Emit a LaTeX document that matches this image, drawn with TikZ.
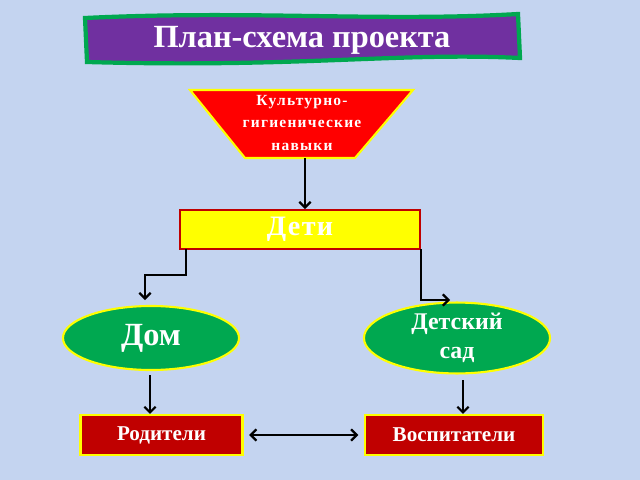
\documentclass[tikz,border=0pt]{standalone}
\usepackage{fontspec}
\setmainfont{Liberation Serif}
\usetikzlibrary{arrows.meta,shapes.geometric}
\definecolor{bg}{RGB}{196,212,240}
\definecolor{purp}{RGB}{112,48,160}
\definecolor{grn}{RGB}{0,168,80}
\definecolor{dred}{RGB}{192,0,0}
\definecolor{yel}{RGB}{255,255,0}
\begin{document}
\begin{tikzpicture}[x=0.025cm,y=-0.025cm,
  conn/.style={black,line width=1.6pt,-{Straight Barb[length=4pt,width=8pt]}},
  lbl/.style={font=\bfseries,text=white},
  ell/.style={ellipse,fill=grn,draw=yel,line width=1.5pt,lbl,align=center,inner sep=0pt},
  rbox/.style={rectangle,fill=dred,draw=yel,line width=1.5pt,lbl,font=\bfseries\fontsize{15}{18}\selectfont}]
\fill[bg] (0,0) rectangle (640,480);
% banner
\draw[fill=purp,draw=grn,line width=3pt] (85,18) .. controls (250,10) and (380,22) .. (518,14)
  -- (520,58) .. controls (400,52) and (300,68) .. (87,62) -- cycle;
\node[lbl,font=\bfseries\fontsize{23}{26}\selectfont] (title) at (302,40) {План-схема проекта};
% trapezoid
\draw[fill=red,draw=yel,line width=1.5pt] (190,90) -- (413,90) -- (355,158) -- (245,158) -- cycle;
\node[lbl,align=center,font=\bfseries\fontsize{11}{16}\selectfont\addfontfeatures{LetterSpace=8}] (kul) at (302,123) {Культурно-\\гигиенические\\навыки};
\coordinate (kb) at (305,158);
\node[rectangle,fill=yel,draw=dred,line width=1.5pt,minimum width=6cm,minimum height=0.97cm,lbl,font=\bfseries\fontsize{20}{22}\selectfont\addfontfeatures{LetterSpace=5}] (deti) at (300,229.5) {Дети};
\draw[conn] (kb) -- (deti.north -| kb);
\node[ell,minimum width=4.4cm,minimum height=1.6cm,font=\bfseries\fontsize{23}{26}\selectfont] (dom) at (151,338) {Дом};
\node[ell,minimum width=4.65cm,minimum height=1.7cm,font=\bfseries\fontsize{17}{21}\selectfont] (sad) at (457,338) {Детский\\сад};
\node[rbox,minimum width=4.05cm,minimum height=1cm] (rod) at (161.5,435) {Родители};
\node[rbox,minimum width=4.45cm,minimum height=1cm] (vos) at (454,435) {Воспитатели};
\coordinate (l1) at (186,249); \coordinate (l2) at (145,300);
\coordinate (r1) at (421,249); \coordinate (r2) at (450,300);
\draw[conn] (l1) -- (186,275) -- (145,275) -- (l2);
\draw[conn] (r1) -- (421,300) -- (r2);
\draw[conn] (150,375) -- (rod.north -| 150,0);
\draw[conn] (463,380) -- (vos.north -| 463,0);
\draw[conn,{Straight Barb[length=4pt,width=8pt]}-{Straight Barb[length=4pt,width=8pt]}] ([xshift=4pt]rod.east) -- ([xshift=-4pt]vos.west);
\end{tikzpicture}
\end{document}
